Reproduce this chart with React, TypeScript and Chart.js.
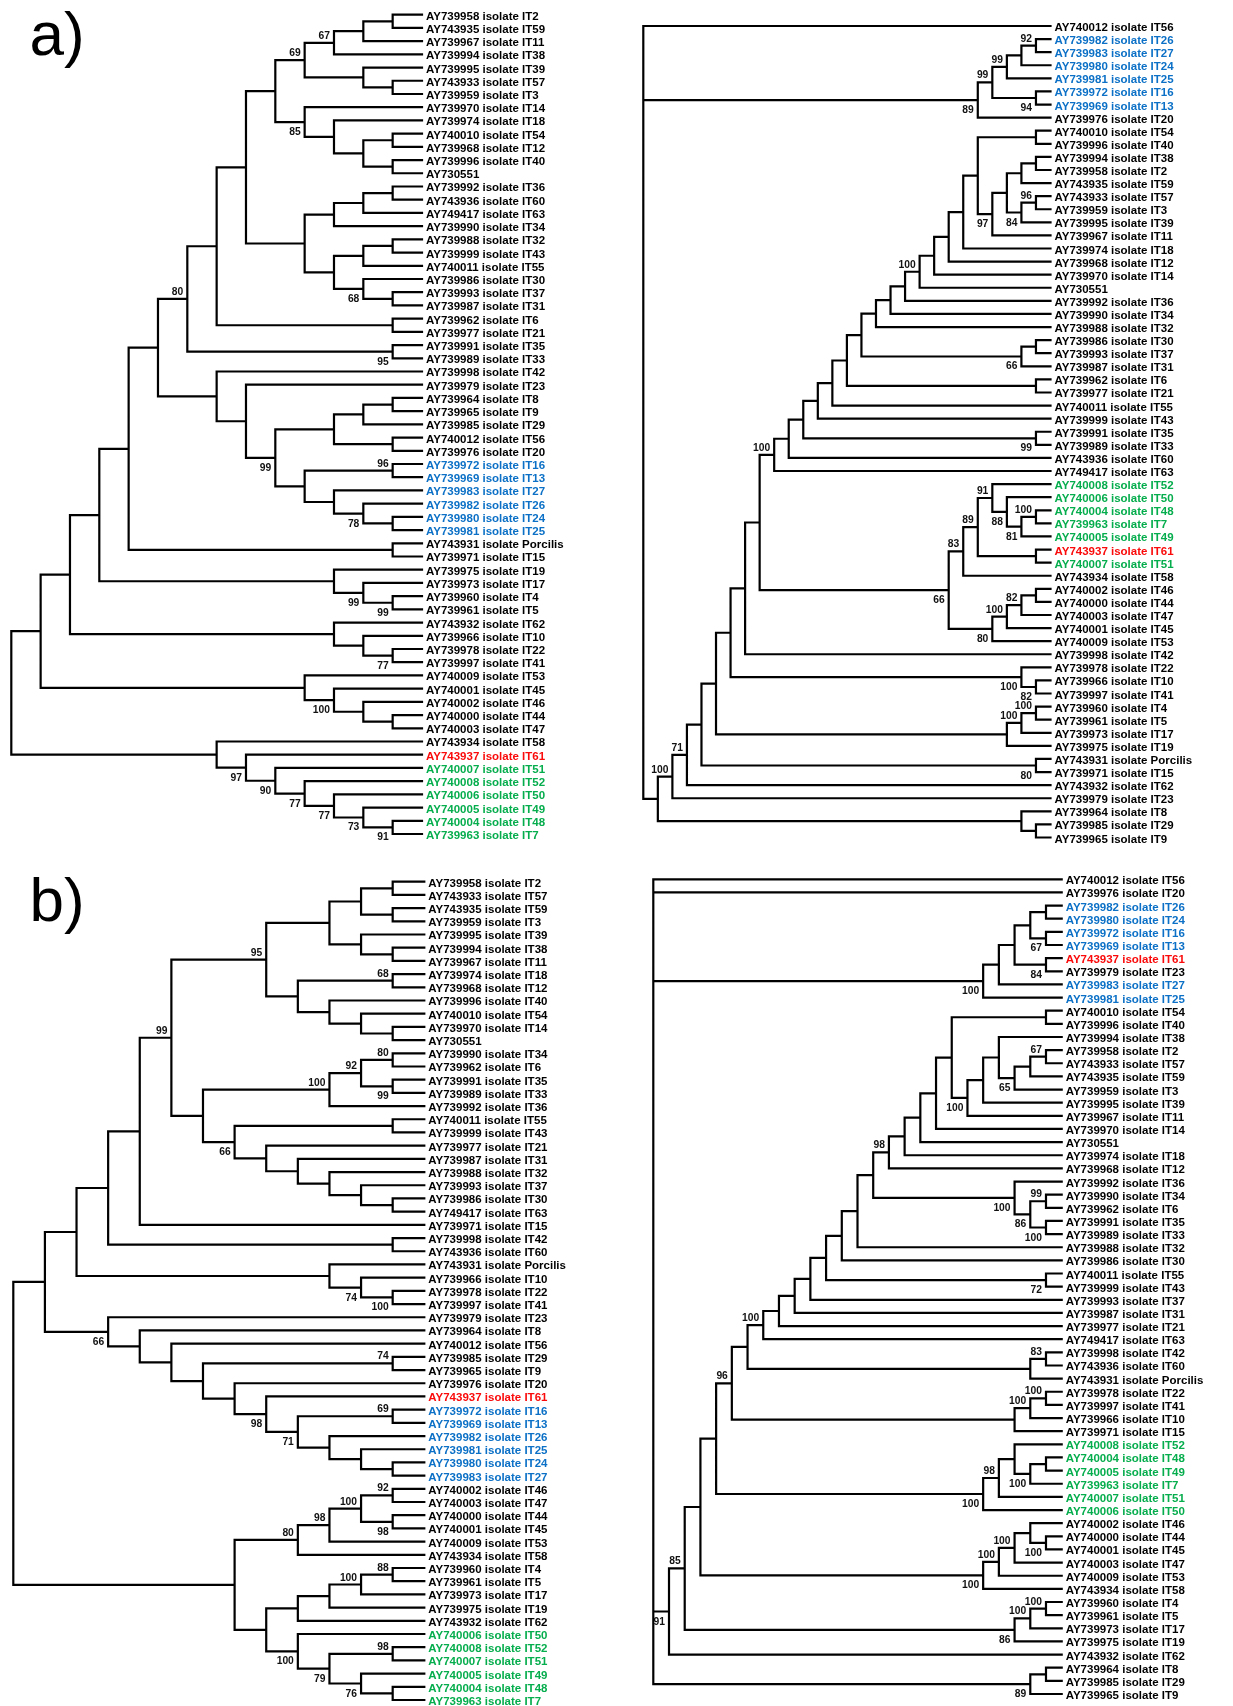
import React, { useEffect, useRef } from "react";
import { Chart, registerables } from "chart.js";

Chart.register(...registerables);

// ---------------- DATA ----------------
// Colour groups (by isolate name, identical in every tree)
const blueIsolates = ["IT13", "IT16", "IT24", "IT25", "IT26", "IT27"];
const redIsolates = ["IT61"];
const greenIsolates = ["IT7", "IT48", "IT49", "IT50", "IT51", "IT52"];

// Leaf (tip) labels, top to bottom, for each tree
const aLeftLeaves = [
  "AY739958 isolate IT2", "AY743935 isolate IT59", "AY739967 isolate IT11", "AY739994 isolate IT38",
  "AY739995 isolate IT39", "AY743933 isolate IT57", "AY739959 isolate IT3", "AY739970 isolate IT14",
  "AY739974 isolate IT18", "AY740010 isolate IT54", "AY739968 isolate IT12", "AY739996 isolate IT40",
  "AY730551", "AY739992 isolate IT36", "AY743936 isolate IT60", "AY749417 isolate IT63",
  "AY739990 isolate IT34", "AY739988 isolate IT32", "AY739999 isolate IT43", "AY740011 isolate IT55",
  "AY739986 isolate IT30", "AY739993 isolate IT37", "AY739987 isolate IT31", "AY739962 isolate IT6",
  "AY739977 isolate IT21", "AY739991 isolate IT35", "AY739989 isolate IT33", "AY739998 isolate IT42",
  "AY739979 isolate IT23", "AY739964 isolate IT8", "AY739965 isolate IT9", "AY739985 isolate IT29",
  "AY740012 isolate IT56", "AY739976 isolate IT20", "AY739972 isolate IT16", "AY739969 isolate IT13",
  "AY739983 isolate IT27", "AY739982 isolate IT26", "AY739980 isolate IT24", "AY739981 isolate IT25",
  "AY743931 isolate Porcilis", "AY739971 isolate IT15", "AY739975 isolate IT19", "AY739973 isolate IT17",
  "AY739960 isolate IT4", "AY739961 isolate IT5", "AY743932 isolate IT62", "AY739966 isolate IT10",
  "AY739978 isolate IT22", "AY739997 isolate IT41", "AY740009 isolate IT53", "AY740001 isolate IT45",
  "AY740002 isolate IT46", "AY740000 isolate IT44", "AY740003 isolate IT47", "AY743934 isolate IT58",
  "AY743937 isolate IT61", "AY740007 isolate IT51", "AY740008 isolate IT52", "AY740006 isolate IT50",
  "AY740005 isolate IT49", "AY740004 isolate IT48", "AY739963 isolate IT7",
];

const aRightLeaves = [
  "AY740012 isolate IT56", "AY739982 isolate IT26", "AY739983 isolate IT27", "AY739980 isolate IT24",
  "AY739981 isolate IT25", "AY739972 isolate IT16", "AY739969 isolate IT13", "AY739976 isolate IT20",
  "AY740010 isolate IT54", "AY739996 isolate IT40", "AY739994 isolate IT38", "AY739958 isolate IT2",
  "AY743935 isolate IT59", "AY743933 isolate IT57", "AY739959 isolate IT3", "AY739995 isolate IT39",
  "AY739967 isolate IT11", "AY739974 isolate IT18", "AY739968 isolate IT12", "AY739970 isolate IT14",
  "AY730551", "AY739992 isolate IT36", "AY739990 isolate IT34", "AY739988 isolate IT32",
  "AY739986 isolate IT30", "AY739993 isolate IT37", "AY739987 isolate IT31", "AY739962 isolate IT6",
  "AY739977 isolate IT21", "AY740011 isolate IT55", "AY739999 isolate IT43", "AY739991 isolate IT35",
  "AY739989 isolate IT33", "AY743936 isolate IT60", "AY749417 isolate IT63", "AY740008 isolate IT52",
  "AY740006 isolate IT50", "AY740004 isolate IT48", "AY739963 isolate IT7", "AY740005 isolate IT49",
  "AY743937 isolate IT61", "AY740007 isolate IT51", "AY743934 isolate IT58", "AY740002 isolate IT46",
  "AY740000 isolate IT44", "AY740003 isolate IT47", "AY740001 isolate IT45", "AY740009 isolate IT53",
  "AY739998 isolate IT42", "AY739978 isolate IT22", "AY739966 isolate IT10", "AY739997 isolate IT41",
  "AY739960 isolate IT4", "AY739961 isolate IT5", "AY739973 isolate IT17", "AY739975 isolate IT19",
  "AY743931 isolate Porcilis", "AY739971 isolate IT15", "AY743932 isolate IT62", "AY739979 isolate IT23",
  "AY739964 isolate IT8", "AY739985 isolate IT29", "AY739965 isolate IT9",
];

const bLeftLeaves = [
  "AY739958 isolate IT2", "AY743933 isolate IT57", "AY743935 isolate IT59", "AY739959 isolate IT3",
  "AY739995 isolate IT39", "AY739994 isolate IT38", "AY739967 isolate IT11", "AY739974 isolate IT18",
  "AY739968 isolate IT12", "AY739996 isolate IT40", "AY740010 isolate IT54", "AY739970 isolate IT14",
  "AY730551", "AY739990 isolate IT34", "AY739962 isolate IT6", "AY739991 isolate IT35",
  "AY739989 isolate IT33", "AY739992 isolate IT36", "AY740011 isolate IT55", "AY739999 isolate IT43",
  "AY739977 isolate IT21", "AY739987 isolate IT31", "AY739988 isolate IT32", "AY739993 isolate IT37",
  "AY739986 isolate IT30", "AY749417 isolate IT63", "AY739971 isolate IT15", "AY739998 isolate IT42",
  "AY743936 isolate IT60", "AY743931 isolate Porcilis", "AY739966 isolate IT10", "AY739978 isolate IT22",
  "AY739997 isolate IT41", "AY739979 isolate IT23", "AY739964 isolate IT8", "AY740012 isolate IT56",
  "AY739985 isolate IT29", "AY739965 isolate IT9", "AY739976 isolate IT20", "AY743937 isolate IT61",
  "AY739972 isolate IT16", "AY739969 isolate IT13", "AY739982 isolate IT26", "AY739981 isolate IT25",
  "AY739980 isolate IT24", "AY739983 isolate IT27", "AY740002 isolate IT46", "AY740003 isolate IT47",
  "AY740000 isolate IT44", "AY740001 isolate IT45", "AY740009 isolate IT53", "AY743934 isolate IT58",
  "AY739960 isolate IT4", "AY739961 isolate IT5", "AY739973 isolate IT17", "AY739975 isolate IT19",
  "AY743932 isolate IT62", "AY740006 isolate IT50", "AY740008 isolate IT52", "AY740007 isolate IT51",
  "AY740005 isolate IT49", "AY740004 isolate IT48", "AY739963 isolate IT7",
];

const bRightLeaves = [
  "AY740012 isolate IT56", "AY739976 isolate IT20", "AY739982 isolate IT26", "AY739980 isolate IT24",
  "AY739972 isolate IT16", "AY739969 isolate IT13", "AY743937 isolate IT61", "AY739979 isolate IT23",
  "AY739983 isolate IT27", "AY739981 isolate IT25", "AY740010 isolate IT54", "AY739996 isolate IT40",
  "AY739994 isolate IT38", "AY739958 isolate IT2", "AY743933 isolate IT57", "AY743935 isolate IT59",
  "AY739959 isolate IT3", "AY739995 isolate IT39", "AY739967 isolate IT11", "AY739970 isolate IT14",
  "AY730551", "AY739974 isolate IT18", "AY739968 isolate IT12", "AY739992 isolate IT36",
  "AY739990 isolate IT34", "AY739962 isolate IT6", "AY739991 isolate IT35", "AY739989 isolate IT33",
  "AY739988 isolate IT32", "AY739986 isolate IT30", "AY740011 isolate IT55", "AY739999 isolate IT43",
  "AY739993 isolate IT37", "AY739987 isolate IT31", "AY739977 isolate IT21", "AY749417 isolate IT63",
  "AY739998 isolate IT42", "AY743936 isolate IT60", "AY743931 isolate Porcilis", "AY739978 isolate IT22",
  "AY739997 isolate IT41", "AY739966 isolate IT10", "AY739971 isolate IT15", "AY740008 isolate IT52",
  "AY740004 isolate IT48", "AY740005 isolate IT49", "AY739963 isolate IT7", "AY740007 isolate IT51",
  "AY740006 isolate IT50", "AY740002 isolate IT46", "AY740000 isolate IT44", "AY740001 isolate IT45",
  "AY740003 isolate IT47", "AY740009 isolate IT53", "AY743934 isolate IT58", "AY739960 isolate IT4",
  "AY739961 isolate IT5", "AY739973 isolate IT17", "AY739975 isolate IT19", "AY743932 isolate IT62",
  "AY739964 isolate IT8", "AY739985 isolate IT29", "AY739965 isolate IT9",
];

// Topologies: "(children)k/bootstrap" where k = node column (0 = tips), leaves = row numbers
const aLeftCore =
  "(((((1,2)1,3)2,4)3/67,(5,(6,7)1)2)4/69,(8,(9,((10,11)1,(12,13)1)2)3)4/85)5";
const aLeftTails = [
  ",((((14,15)1,16)2,17)3,(((18,19)1,20)2,(21,(22,23)1)2/68)3)4)6",
  ",(24,25)1)7",
  ",(26,27)1/95)8/80",
  ",(28,(29,((((30,31)1,32)2,(33,34)1)3,((35,36)1/96,(37,(38,(39,40)1)2/78)3)4)5/99)6)7)9",
  ",(41,42)1)10",
  ",(43,(44,(45,46)1/99)2/99)3)11",
  ",(47,(48,(49,50)1/77)2)3)12",
  ",(51,(52,(53,(54,55)1)2)3/100)4)13",
  ",(56,(57,(58,(59,(60,(61,(62,63)1/91)2/73)3/77)4/77)5/90)6/97)7)14",
];

const aRightTop = "(((((2,3)1/92,4)2,5)3/99,(6,7)1/94)4/99,8)5/89";
const aRightCore = "((9,10)1,((((11,12)1,13)2,((14,15)1/96,16)2/84)3,17)4/97)5";
const aRightGreen =
  "((((36,(37,((38,39)1/100,40)2/81)3/88)4/91,(41,42)1)5/89,43)6/83,((((44,45)1,46)2/82,47)3/100,48)4/80)7/66";
const aRightTails = [
  ",18)6", ",19)7", ",20)8", ",21)9/100", ",22)10", ",23)11", ",24)12",
  ",((25,26)1,27)2/66)13", ",(28,29)1)14", ",30)15", ",31)16", ",(32,33)1/99)17",
  ",34)18", ",35)19/100", "," + aRightGreen + ")20", ",49)21",
  ",(50,(51,52)1/82)2/100)22", ",(((53,54)1/100,55)2/100,56)3)23", ",(57,58)1/80)24",
  ",59)25/71", ",60)26/100", ",(61,(62,63)1)2)27",
];

const bLeftCore =
  "(((((1,2)1,(3,4)1)2,(5,(6,7)1)2)3,((8,9)1/68,(10,(11,(12,13)1)2)3)4)5/95,((((14,15)1/80,(16,17)1/99)2/92,18)3/100,((19,20)1,(21,(22,(23,(24,(25,26)1)2)3)4)5)6/66)7)8/99";
const bLeftClade66 =
  "(34,(35,(36,((37,38)1/74,(39,(40,((41,42)1/69,(43,(44,(45,46)1)2)3)4/71)5/98)6)7)8)9)10/66";
const bLeftLower =
  "(((((47,48)1/92,(49,50)1/98)2/100,51)3/98,52)4/80,(((((53,54)1/88,55)2/100,56)3,57)4,(58,((59,60)1/98,(61,(62,63)1)2/76)3/79)4/100)5)6";
const bLeftTails = [
  ",27)9", ",(28,29)1)10", ",(30,(31,(32,33)1/100)2/74)3)11",
  "," + bLeftClade66 + ")12", "," + bLeftLower + ")13",
];

const bRightTop = "(((((3,4)1,(5,6)1/67)2,(7,8)1/84)3,9)4,10)5/100";
const bRightCore = "((11,12)1,(((13,(((14,15)1/67,16)2,17)3/65)4,18)5,19)6/100)7";
const bRightTails = [
  ",20)8", ",21)9", ",22)10", ",23)11/98",
  ",(24,((25,26)1/99,(27,28)1/100)2/86)3/100)12", ",29)13", ",30)14", ",(31,32)1/72)15",
  ",33)16", ",34)17", ",35)18", ",36)19/100", ",((37,38)1/83,39)2)20",
  ",(((40,41)1/100,42)2/100,43)3)21/96",
  ",(((44,((45,46)1,47)2/100)3,48)4/98,49)5/100)22",
  ",((((50,(51,52)1/100)2,53)3/100,54)4/100,55)5/100)23",
  ",(((56,57)1/100,58)2/100,59)3/86)24/85", ",60)25/91",
];
const bRightBottom = "((61,62)1,63)2/89";

// ---------------- TREE BUILDING ----------------
const wrap = (inner: string, tails: string[]) => tails.reduce((acc, t) => "(" + acc + t, inner);

const aLeftTree = wrap(aLeftCore, aLeftTails);
const aRightTree = "(1," + aRightTop + "," + wrap(aRightCore, aRightTails) + ")28";
const bLeftTree = wrap(bLeftCore, bLeftTails);
const bRightTree = "(1,2," + bRightTop + "," + wrap(bRightCore, bRightTails) + "," + bRightBottom + ")26";

type TNode = { k: number; label: string; children?: TNode[]; leaf?: number; y: number };

function parseNewick(s: string): TNode {
  let i = 0;
  const num = () => {
    const st = i;
    while (i < s.length && s[i] >= "0" && s[i] <= "9") i++;
    if (st === i) throw new Error("Newick parse error at " + i + " in " + s.slice(Math.max(0, i - 20), i + 20));
    return parseInt(s.slice(st, i), 10);
  };
  const node = (): TNode => {
    if (s[i] === "(") {
      i++;
      const children = [node()];
      while (s[i] === ",") {
        i++;
        children.push(node());
      }
      if (s[i] !== ")") throw new Error("Newick: expected ) at " + i);
      i++;
      const k = num();
      let label = "";
      if (s[i] === "/") {
        i++;
        label = String(num());
      }
      return { k, label, children, y: 0 };
    }
    const leaf = num();
    return { k: 0, label: "", leaf, y: leaf };
  };
  const r = node();
  if (i !== s.length) throw new Error("Newick: trailing text at " + i);
  return r;
}

function layoutTree(n: TNode, order: number[]): number {
  if (n.children) {
    const ys = n.children.map((c) => layoutTree(c, order));
    n.y = (ys[0] + ys[ys.length - 1]) / 2;
  } else {
    order.push(n.leaf as number);
    n.y = n.leaf as number;
  }
  return n.y;
}

type Pt = { x: number | null; y: number | null };
type Boot = { k: number; y: number; text: string; above: boolean };

function collect(n: TNode, pts: Pt[], boots: Boot[]) {
  if (!n.children) return;
  const cs = n.children;
  const f = cs[0];
  const l = cs[cs.length - 1];
  pts.push({ x: f.k, y: f.y }, { x: n.k, y: f.y }, { x: n.k, y: l.y }, { x: l.k, y: l.y }, { x: null, y: null });
  for (let i = 1; i < cs.length - 1; i++) {
    pts.push({ x: n.k, y: cs[i].y }, { x: cs[i].k, y: cs[i].y }, { x: null, y: null });
  }
  cs.forEach((c, i) => {
    if (c.children && c.label) boots.push({ k: c.k, y: c.y, text: c.label, above: i === 0 });
    collect(c, pts, boots);
  });
}

function leafColor(name: string): string {
  const tag = name.split(" ").pop() as string;
  if (blueIsolates.includes(tag)) return "#0b70c6";
  if (redIsolates.includes(tag)) return "#fa0a0a";
  if (greenIsolates.includes(tag)) return "#06ad4d";
  return "#000000";
}

// ---------------- LAYOUT (style) ----------------
type Panel = {
  key: string;
  tree: string;
  leaves: string[];
  box: [number, number, number, number];
  rootX: number;
  tipX: number;
  firstY: number;
  lastY: number;
};

const PANELS: Panel[] = [
  { key: "aL", tree: aLeftTree, leaves: aLeftLeaves, box: [0, 0, 616, 860], rootX: 11.3, tipX: 422, firstY: 14.7, lastY: 834 },
  { key: "aR", tree: aRightTree, leaves: aRightLeaves, box: [616, 0, 617, 860], rootX: 643.3, tipX: 1050.5, firstY: 26, lastY: 837.5 },
  { key: "bL", tree: bLeftTree, leaves: bLeftLeaves, box: [0, 860, 616, 846], rootX: 13.3, tipX: 424.3, firstY: 881.7, lastY: 1700 },
  { key: "bR", tree: bRightTree, leaves: bRightLeaves, box: [616, 860, 617, 846], rootX: 653.3, tipX: 1061.7, firstY: 879.3, lastY: 1694 },
];

const FONT_FAMILY = '"Liberation Sans", Arial, Helvetica, sans-serif';

function makeLabelPlugin(leaves: string[], boots: Boot[]) {
  return {
    id: "treeLabels",
    beforeDatasetsDraw(chart: any) {
      const { ctx } = chart;
      const xs = chart.scales.x;
      const ys = chart.scales.y;
      ctx.save();
      ctx.font = "bold 10.3px " + FONT_FAMILY;
      ctx.fillStyle = "#111111";
      ctx.textAlign = "right";
      ctx.textBaseline = "alphabetic";
      for (const b of boots) {
        const px = xs.getPixelForValue(b.k) - 4;
        const py = ys.getPixelForValue(b.y) + (b.above ? -4 : 13);
        ctx.fillText(b.text, px, py);
      }
      ctx.restore();
    },
    afterDatasetsDraw(chart: any) {
      const { ctx } = chart;
      const xs = chart.scales.x;
      const ys = chart.scales.y;
      ctx.save();
      ctx.font = "bold 11.5px " + FONT_FAMILY;
      ctx.textAlign = "left";
      ctx.textBaseline = "alphabetic";
      const x0 = xs.getPixelForValue(0) + 4;
      leaves.forEach((name, i) => {
        ctx.fillStyle = leafColor(name);
        ctx.fillText(name, x0, ys.getPixelForValue(i + 1) + 5);
      });
      ctx.restore();
    },
  };
}

function TreePanel({ panel }: { panel: Panel }) {
  const ref = useRef<HTMLCanvasElement>(null);
  const [bx, by, bw, bh] = panel.box;
  useEffect(() => {
    const root = parseNewick(panel.tree);
    const order: number[] = [];
    layoutTree(root, order);
    order.forEach((v, i) => {
      if (v !== i + 1) throw new Error(panel.key + ": leaf order mismatch at row " + (i + 1) + " got " + v);
    });
    if (order.length !== panel.leaves.length)
      throw new Error(panel.key + ": leaf count " + order.length + " vs labels " + panel.leaves.length);
    const pts: Pt[] = [];
    const boots: Boot[] = [];
    collect(root, pts, boots);
    const chart = new Chart(ref.current as HTMLCanvasElement, {
      type: "scatter",
      data: {
        datasets: [
          {
            data: pts as any,
            showLine: true,
            spanGaps: false,
            borderColor: "#000000",
            backgroundColor: "#000000",
            borderWidth: 2.2,
            borderCapStyle: "square",
            borderJoinStyle: "miter",
            pointRadius: 0,
            pointHoverRadius: 0,
            clip: false,
          } as any,
        ],
      },
      options: {
        animation: false,
        responsive: false,
        maintainAspectRatio: false,
        events: [],
        layout: {
          padding: {
            left: panel.rootX - bx,
            right: bx + bw - panel.tipX,
            top: panel.firstY - by,
            bottom: by + bh - panel.lastY,
          },
        },
        plugins: { legend: { display: false }, tooltip: { enabled: false } },
        scales: {
          x: { type: "linear", min: 0, max: root.k, reverse: true, display: false },
          y: { type: "linear", min: 1, max: panel.leaves.length, reverse: true, display: false },
        },
      },
      plugins: [makeLabelPlugin(panel.leaves, boots)],
    });
    return () => chart.destroy();
  }, [panel]);
  return (
    <canvas
      ref={ref}
      width={bw}
      height={bh}
      style={{ position: "absolute", left: bx, top: by, width: bw, height: bh, display: "block" }}
    />
  );
}

const panelLetterStyle: React.CSSProperties = {
  position: "absolute",
  left: 29.5,
  fontFamily: FONT_FAMILY,
  fontSize: 62,
  lineHeight: "62px",
  color: "#000",
  margin: 0,
  whiteSpace: "nowrap",
};

export default function App() {
  return (
    <div
      style={{
        position: "absolute",
        left: 0,
        top: 0,
        width: 1233,
        height: 1706,
        background: "#ffffff",
        overflow: "hidden",
      }}
    >
      {PANELS.map((p) => (
        <TreePanel key={p.key} panel={p} />
      ))}
      <div style={{ ...panelLetterStyle, top: 2.5 }}>a)</div>
      <div style={{ ...panelLetterStyle, top: 869.2 }}>b)</div>
    </div>
  );
}
